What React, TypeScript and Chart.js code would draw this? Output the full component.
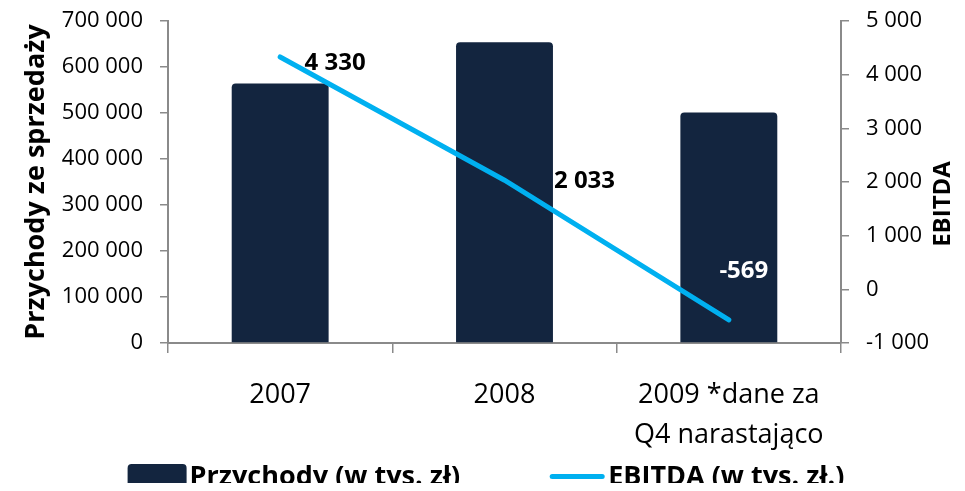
import React, { useEffect, useRef } from "react";
import { Chart, registerables } from "chart.js";

Chart.register(...registerables);

const categories: (string | string[])[] = ["2007", "2008", ["2009 *dane za", "Q4 narastająco"]];
const revenueLabel = "Przychody (w tys. zł)";
const ebitdaLabel = "EBITDA (w tys. zł.)";
const revenue = [564000, 654000, 501000];
const ebitda = [4330, 2033, -569];
const leftTitle = "Przychody ze sprzedaży";
const rightTitle = "EBITDA";

const BAR = "#13253F";
const LINE = "#00B0F0";
const AXIS = "#8A8A8A";
const FONT = "'Open Sans', 'Liberation Sans', sans-serif";

function fmt(v: number): string {
  const s = Math.round(Math.abs(v)).toString().replace(/\B(?=(\d{3})+(?!\d))/g, " ");
  return (v < 0 ? "-" : "") + s;
}

// label offsets relative to the line points (style only)
const labelDx = [55, 80, 15];
const labelDy = [6.5, 0.5, -49];
const labelColor = ["#000000", "#000000", "#FFFFFF"];

const labelsPlugin = {
  id: "pointLabels",
  afterDatasetsDraw(chart: any) {
    const meta = chart.getDatasetMeta(1);
    const ctx = chart.ctx;
    ctx.save();
    ctx.font = `bold 24px ${FONT}`;
    ctx.textAlign = "center";
    ctx.textBaseline = "middle";
    meta.data.forEach((pt: any, i: number) => {
      ctx.fillStyle = labelColor[i];
      ctx.fillText(fmt(ebitda[i]), pt.x + labelDx[i], pt.y + labelDy[i]);
    });
    ctx.restore();
  },
};

const extrasPlugin = {
  id: "extras",
  afterDraw(chart: any) {
    const ctx = chart.ctx;
    const area = chart.chartArea;
    const y1 = chart.scales.y1;
    ctx.save();
    // right axis title, reading bottom-to-top
    ctx.font = `bold 24px ${FONT}`;
    ctx.fillStyle = "#000";
    ctx.textAlign = "center";
    ctx.textBaseline = "middle";
    ctx.translate(y1.right - 14, (area.top + area.bottom) / 2 + 22);
    ctx.rotate(-Math.PI / 2);
    ctx.fillText(rightTitle, 0, 0);
    ctx.restore();

    // legend
    ctx.save();
    ctx.font = `bold 27px ${FONT}`;
    ctx.textBaseline = "middle";
    ctx.textAlign = "left";
    const w1 = ctx.measureText(revenueLabel).width;
    const w2 = ctx.measureText(ebitdaLabel).width;
    const boxW = 59, boxH = 25, gap1 = 3, itemGap = 92, lineW = 50, gap2 = 6;
    const total = boxW + gap1 + w1 + itemGap + lineW + gap2 + w2;
    let x = chart.width / 2 + 3.5 - total / 2;
    const cy = chart.height - 14.5;
    ctx.fillStyle = BAR;
    ctx.beginPath();
    (ctx as any).roundRect(x, cy - boxH / 2, boxW, boxH, 4);
    ctx.fill();
    x += boxW + gap1;
    ctx.fillStyle = "#000";
    ctx.fillText(revenueLabel, x, cy + 1);
    x += w1 + itemGap;
    ctx.strokeStyle = LINE;
    ctx.lineWidth = 5;
    ctx.lineCap = "round";
    ctx.beginPath();
    ctx.moveTo(x, cy);
    ctx.lineTo(x + lineW, cy);
    ctx.stroke();
    x += lineW + gap2;
    ctx.fillText(ebitdaLabel, x, cy + 1);
    ctx.restore();
  },
};

export default function App() {
  const ref = useRef<HTMLCanvasElement | null>(null);
  useEffect(() => {
    if (!ref.current) return;
    Chart.defaults.font.family = FONT;
    Chart.defaults.color = "#000";
    const chart = new Chart(ref.current, {
      type: "bar",
      data: {
        labels: categories,
        datasets: [
          {
            type: "bar",
            label: revenueLabel,
            data: revenue,
            backgroundColor: BAR,
            borderRadius: { topLeft: 4, topRight: 4, bottomLeft: 0, bottomRight: 0 },
            borderSkipped: "bottom",
            barPercentage: 0.432,
            categoryPercentage: 1,
            yAxisID: "y",
            order: 2,
          },
          {
            type: "line",
            label: ebitdaLabel,
            data: ebitda,
            borderColor: LINE,
            backgroundColor: LINE,
            borderWidth: 5,
            borderCapStyle: "round",
            pointRadius: 0,
            tension: 0,
            yAxisID: "y1",
            order: 1,
          },
        ],
      },
      options: {
        responsive: true,
        maintainAspectRatio: false,
        animation: false,
        layout: { padding: { top: 0, left: 0, right: 0, bottom: 0 } },
        plugins: {
          legend: { display: false },
          tooltip: { enabled: false },
        },
        scales: {
          x: {
            offset: true,
            grid: {
              offset: true,
              drawOnChartArea: false,
              drawTicks: true,
              tickLength: 10,
              color: AXIS,
              lineWidth: 1.5,
            },
            border: { color: AXIS, width: 2 },
            ticks: {
              font: { size: 27, lineHeight: 1.48 },
              padding: 22,
              maxRotation: 0,
              autoSkip: false,
            },
            afterFit: (s: any) => {
              s.height = 148;
            },
          },
          y: {
            position: "left",
            min: 0,
            max: 700000,
            grid: {
              drawOnChartArea: false,
              drawTicks: true,
              tickLength: 8,
              color: AXIS,
              lineWidth: 1.5,
            },
            border: { color: AXIS, width: 2 },
            ticks: {
              stepSize: 100000,
              font: { size: 22 },
              padding: 17,
              callback: (v: any) => fmt(Number(v)),
            },
            title: {
              display: true,
              text: leftTitle,
              font: { size: 27, weight: "bold" },
              padding: { top: 12, bottom: 0 },
            },
            afterFit: (s: any) => {
              s.width = 160;
              s.paddingTop = 13;
              s.paddingBottom = 13;
            },
          },
          y1: {
            position: "right",
            min: -1000,
            max: 5000,
            grid: {
              drawOnChartArea: false,
              drawTicks: true,
              tickLength: 8,
              color: AXIS,
              lineWidth: 1.5,
            },
            border: { color: AXIS, width: 2 },
            ticks: {
              stepSize: 1000,
              font: { size: 22 },
              padding: 17,
              callback: (v: any) => fmt(Number(v)),
            },
            afterFit: (s: any) => {
              s.width = 116;
              s.paddingTop = 13;
              s.paddingBottom = 13;
            },
          },
        },
      },
      plugins: [labelsPlugin, extrasPlugin],
    } as any);
    return () => chart.destroy();
  }, []);
  return (
    <div style={{ position: "relative", width: "100%", height: 483, marginBottom: -8 }}>
      <canvas ref={ref} />
    </div>
  );
}
